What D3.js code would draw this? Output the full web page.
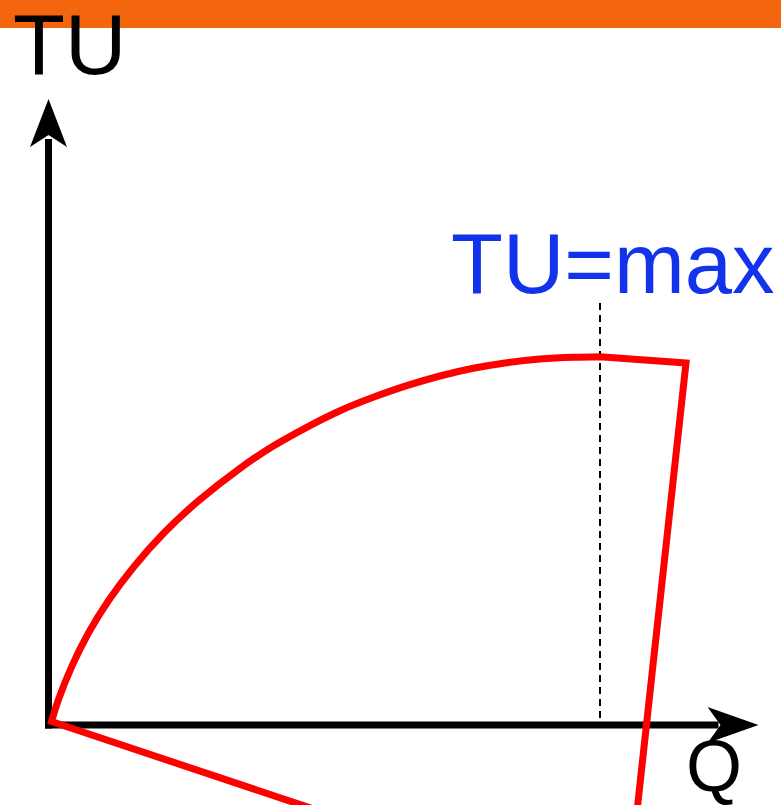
<!DOCTYPE html>
<html>
<head>
<meta charset="utf-8">
<script src="https://cdn.jsdelivr.net/npm/d3@7"></script>
<style>
  body { margin: 0; background: #fff; }
  svg { display: block; font-family: "Liberation Sans", Arial, sans-serif; }
</style>
</head>
<body>
<script>
// Total utility curve (arbitrary units)
var curveQ  = [0.3, 0.98, 2.32, 3.98, 6.04, 8.54, 11.51, 15.09, 19.15, 22.48, 25.82, 29.15, 32.48, 35.82, 39.15, 42.48, 45.82, 49.15, 52.48, 55.15];
var curveTU = [0.35, 2.5, 5.83, 9.17, 12.5, 15.83, 19.17, 22.5, 25.67, 27.9, 29.77, 31.43, 32.77, 33.93, 34.9, 35.67, 36.23, 36.6, 36.77, 36.83];
// end point of the curve before it turns down
var cornerQ = 63.75, cornerTU = 36.2;
// straight legs going below the Q axis
var leftLeg  = [31.3, -10];
var rightLeg = [58.7, -10];
// where TU reaches its max
var maxQ = 55.15;
var labels = { y: "TU", x: "Q", max: "TU=max" };

var w = 781;
var h = 805;

//Scales
var xScale = d3.scaleLinear().domain([0, 71]).range([48.5, 758.5]);
var yScale = d3.scaleLinear().domain([0, 62.6]).range([725, 99]);

var svg = d3.select("body")
    .append("svg")
    .attr("width", w)
    .attr("height", h);

//Orange bar on top
svg.append("rect")
    .attr("x", 0)
    .attr("y", 0)
    .attr("width", w)
    .attr("height", 28)
    .attr("fill", "#f4660d");

var x0 = xScale(0), y0 = yScale(0);
var xEnd = xScale.range()[1], yEnd = yScale.range()[1];

//Axes lines
svg.append("line")
    .attr("x1", x0).attr("y1", y0 + 3.5)
    .attr("x2", x0).attr("y2", yEnd + 40)
    .attr("stroke", "#000").attr("stroke-width", 7);
svg.append("line")
    .attr("x1", x0 - 3.5).attr("y1", y0)
    .attr("x2", xEnd - 40).attr("y2", y0)
    .attr("stroke", "#000").attr("stroke-width", 7);

//Arrow heads (notched)
svg.append("path")
    .attr("d", "M" + x0 + "," + yEnd +
        " L" + (x0 + 18.5) + "," + (yEnd + 48) +
        " L" + x0 + "," + (yEnd + 36) +
        " L" + (x0 - 18.5) + "," + (yEnd + 48) + " Z")
    .attr("fill", "#000");
svg.append("path")
    .attr("d", "M" + xEnd + "," + y0 +
        " L" + (xEnd - 51) + "," + (y0 - 18) +
        " L" + (xEnd - 38) + "," + y0 +
        " L" + (xEnd - 51) + "," + (y0 + 18) + " Z")
    .attr("fill", "#000");

//Dashed line at TU max
svg.append("line")
    .attr("x1", xScale(maxQ)).attr("y1", 303)
    .attr("x2", xScale(maxQ)).attr("y2", y0 - 3)
    .attr("stroke", "#000")
    .attr("stroke-width", 2)
    .attr("stroke-dasharray", "7,5");

//Red curve: left leg -> smooth curve -> corner -> right leg
var curvePts = curveQ.map(function (q, i) {
    return [q, curveTU[i]];
});
var line = d3.line()
    .x(function (d) { return xScale(d[0]); })
    .y(function (d) { return yScale(d[1]); })
    .curve(d3.curveNatural);
var curvePath = line(curvePts);

var pathD = "M" + xScale(leftLeg[0]) + "," + yScale(leftLeg[1]) +
    "L" + curvePath.slice(1) +
    "L" + xScale(cornerQ) + "," + yScale(cornerTU) +
    "L" + xScale(rightLeg[0]) + "," + yScale(rightLeg[1]);

svg.append("path")
    .attr("d", pathD)
    .attr("fill", "none")
    .attr("stroke", "#ff0000")
    .attr("stroke-width", 7)
    .attr("stroke-linejoin", "miter");

//Labels
svg.append("text")
    .attr("x", 13)
    .attr("y", 74)
    .attr("font-size", 85)
    .attr("fill", "#000")
    .text(labels.y);

svg.append("text")
    .attr("x", 686)
    .attr("y", 791)
    .attr("font-size", 72)
    .attr("fill", "#000")
    .text(labels.x);

svg.append("text")
    .attr("x", 451)
    .attr("y", 293)
    .attr("font-size", 85)
    .attr("fill", "#1232ec")
    .text(labels.max);
</script>
</body>
</html>
